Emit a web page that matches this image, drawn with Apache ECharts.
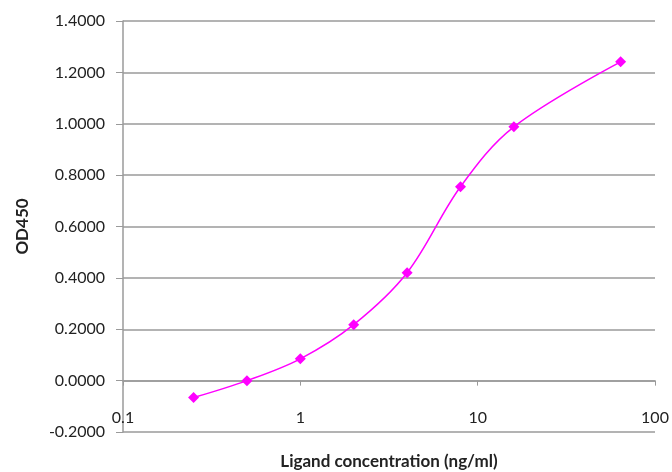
<!DOCTYPE html>
<html lang="en" style="height: 100%">
  <head>
    <meta charset="utf-8" />
  </head>
  <body style="margin: 0; height: 100%">
    <div id="container" style="width: 672px; height: 472px"></div>
    <script type="text/javascript" src="https://cdn.jsdelivr.net/npm/echarts@6/dist/echarts.min.js"></script>
    <script type="text/javascript">
      // ligand concentration (ng/ml) and OD450 readings
      var concentrations = [0.25, 0.5, 1, 2, 4, 8, 16, 64];
      var od450 = [-0.066, 0.0, 0.085, 0.218, 0.42, 0.755, 0.988, 1.241];

      var dom = document.getElementById("container");
      var myChart = echarts.init(dom, null, { renderer: "canvas" });

      var gridColor = "#9a9a9a";
      var font = "Lato, 'Open Sans', sans-serif";
      // plot height 411px over 8 steps of 0.2 -> x axis sits one step above the bottom (y = 0)
      var stepPx = 411 / 8;

      var option = {
        animation: false,
        backgroundColor: "#ffffff",
        grid: {
          left: 123, right: 17, top: 21, bottom: 40,
          containLabel: false,
          outerBoundsMode: "none"
        },
        xAxis: {
          type: "log",
          logBase: 10,
          min: 0.1,
          max: 100,
          position: "bottom",
          offset: -stepPx,
          name: "Ligand concentration (ng/ml)",
          nameLocation: "middle",
          nameGap: 72,
          nameTextStyle: { fontFamily: font, fontWeight: "bold", fontSize: 17, color: "#222" },
          axisLine: { onZero: false, lineStyle: { color: gridColor, width: 1.5 } },
          axisTick: { show: true, length: 5, lineStyle: { color: gridColor } },
          axisLabel: {
            margin: 29,
            fontFamily: font,
            fontSize: 16,
            color: "#222",
            formatter: function (v) { return String(v); }
          },
          splitLine: { show: false },
          minorTick: { show: false }
        },
        yAxis: {
          type: "value",
          min: -0.2,
          max: 1.4,
          interval: 0.2,
          name: "OD450",
          nameLocation: "middle",
          nameGap: 92,
          nameTextStyle: { fontFamily: font, fontWeight: "bold", fontSize: 17, color: "#222" },
          axisLine: { show: true, lineStyle: { color: gridColor, width: 1.5 } },
          axisTick: { show: true, length: 7, lineStyle: { color: gridColor } },
          axisLabel: {
            margin: 18,
            fontFamily: font,
            fontSize: 16,
            color: "#222",
            formatter: function (v) { return v.toFixed(4); }
          },
          splitLine: { show: true, lineStyle: { color: gridColor, width: 1.5 } }
        },
        series: [
          {
            type: "line",
            data: concentrations.map(function (c, i) { return [c, od450[i]]; }),
            smooth: 0.35,
            symbol: "diamond",
            symbolSize: 11,
            lineStyle: { color: "#ff00ff", width: 1.5 },
            itemStyle: { color: "#ff00ff" }
          }
        ]
      };

      myChart.setOption(option);
      window.addEventListener("resize", myChart.resize);
    </script>
  </body>
</html>
